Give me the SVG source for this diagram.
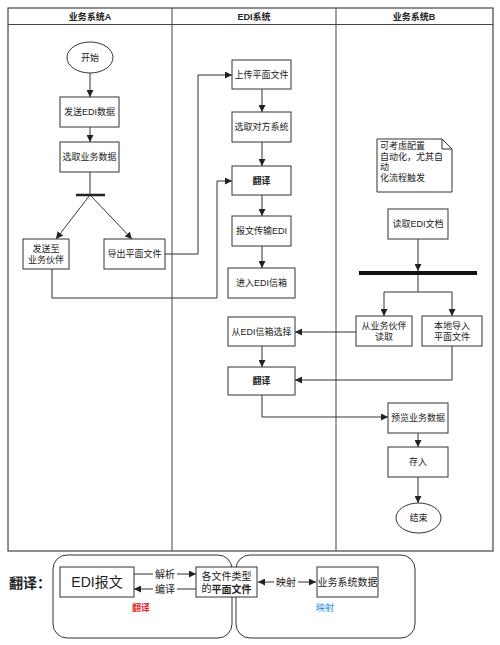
<svg xmlns="http://www.w3.org/2000/svg" width="500" height="645" viewBox="0 0 500 645">
<style>
text{font-family:"Liberation Sans","Noto Sans CJK SC",sans-serif;fill:#222;font-size:9px;text-anchor:middle;dominant-baseline:central}
.box{fill:#fff;stroke:#333;stroke-width:1}
.ln{fill:none;stroke:#333;stroke-width:1}
.arr{fill:none;stroke:#333;stroke-width:1;marker-end:url(#ah)}
.b{font-weight:bold}
.hdr{font-weight:bold;font-size:9px}
</style>
<defs>
<marker id="ah" viewBox="0 0 8 8" refX="8" refY="4" markerWidth="7" markerHeight="7" markerUnits="userSpaceOnUse" orient="auto">
<path d="M0,0 L8,4 L0,8 Z" fill="#222"/>
</marker>
<marker id="as" viewBox="0 0 8 8" refX="0" refY="4" markerWidth="7" markerHeight="7" markerUnits="userSpaceOnUse" orient="auto">
<path d="M8,0 L0,4 L8,8 Z" fill="#222"/>
</marker>
</defs>
<rect width="500" height="645" fill="#fff"/>
<g id="lanes">
<rect x="8" y="8" width="485" height="543" fill="none" stroke="#444" stroke-width="1.2"/>
<line x1="8" y1="24.5" x2="493" y2="24.5" stroke="#444"/>
<line x1="172" y1="8" x2="172" y2="551" stroke="#444"/>
<line x1="336" y1="8" x2="336" y2="551" stroke="#444"/>
<text class="hdr" x="90" y="16.5">业务系统A</text>
<text class="hdr" x="254" y="16.5">EDI系统</text>
<text class="hdr" x="414" y="16.5">业务系统B</text>
</g>
<g id="connectors">
<line class="arr" x1="90" y1="73" x2="90" y2="97"/>
<line class="arr" x1="90" y1="127" x2="90" y2="142"/>
<line class="ln" x1="90" y1="172" x2="90" y2="195"/>
<line x1="76" y1="195" x2="105" y2="195" stroke="#222" stroke-width="2.5"/>
<line class="arr" x1="90" y1="195" x2="56" y2="239"/>
<line class="arr" x1="90" y1="195" x2="132" y2="239"/>
<polyline class="arr" points="52,269 52,298 217,298 217,181 232,181"/>
<polyline class="arr" points="165,254 198,254 198,75 232,75"/>
<line class="arr" x1="262" y1="89" x2="262" y2="112"/>
<line class="arr" x1="262" y1="142" x2="262" y2="166"/>
<line class="arr" x1="262" y1="195" x2="262" y2="216"/>
<line class="arr" x1="262" y1="246" x2="262" y2="268"/>
<line class="arr" x1="418" y1="239" x2="418" y2="271"/>
<line x1="359" y1="273" x2="477" y2="273" stroke="#111" stroke-width="4"/>
<polyline class="ln" points="418,275 418,292"/>
<polyline class="arr" points="418,292 384,292 384,316"/>
<polyline class="arr" points="418,292 452,292 452,316"/>
<line class="arr" x1="356" y1="332" x2="295" y2="332"/>
<line class="arr" x1="262" y1="346" x2="262" y2="367"/>
<polyline class="arr" points="452,346 452,380 295,380"/>
<polyline class="arr" points="262,395 262,417 388,417"/>
<line class="arr" x1="418" y1="433" x2="418" y2="447"/>
<line class="arr" x1="418" y1="477" x2="418" y2="503"/>
</g>
<g id="start"><ellipse class="box" cx="90" cy="57.5" rx="23" ry="15.5"/><text x="90" y="57.5">开始</text></g>
<g id="sendEDI"><rect class="box" x="60" y="97" width="59" height="30"/><text x="89.5" y="112">发送EDI数据</text></g>
<g id="selectData"><rect class="box" x="60" y="142" width="59" height="30"/><text x="89.5" y="157">选取业务数据</text></g>
<g id="sendPartner"><rect class="box" x="23" y="239" width="46" height="30"/><text x="46" y="248.5">发送至</text><text x="46" y="260">业务伙伴</text></g>
<g id="exportFlat"><rect class="box" x="104" y="239" width="61" height="30"/><text x="134.5" y="254">导出平面文件</text></g>
<g id="uploadFlat"><rect class="box" x="232" y="60" width="59" height="29"/><text x="261.5" y="74.5">上传平面文件</text></g>
<g id="selectSystem"><rect class="box" x="232" y="112" width="59" height="30"/><text x="261.5" y="127">选取对方系统</text></g>
<g id="translate1"><rect class="box" x="232" y="166" width="59" height="29"/><text class="b" x="261.5" y="180.5">翻译</text></g>
<g id="transmitEDI"><rect class="box" x="232" y="216" width="59" height="30"/><text x="261.5" y="231">报文传输EDI</text></g>
<g id="enterMailbox"><rect class="box" x="228" y="268" width="67" height="30"/><text x="261.5" y="283">进入EDI信箱</text></g>
<g id="note">
<path class="box" d="M377,139 H442 L452,149 V192 H377 Z"/>
<path class="ln" d="M442,139 V149 H452"/>
<text x="380" y="145.5" style="text-anchor:start">可考虑配置</text>
<text x="380" y="156.5" style="text-anchor:start">自动化，尤其自</text>
<text x="380" y="167" style="text-anchor:start">动</text>
<text x="380" y="178" style="text-anchor:start">化流程触发</text>
</g>
<g id="readEDI"><rect class="box" x="388" y="209" width="60" height="30"/><text x="418" y="224">读取EDI文档</text></g>
<g id="readPartner"><rect class="box" x="356" y="316" width="56" height="30"/><text x="384" y="325.5">从业务伙伴</text><text x="384" y="337">读取</text></g>
<g id="localImport"><rect class="box" x="422" y="316" width="60" height="30"/><text x="452" y="325.5">本地导入</text><text x="452" y="337">平面文件</text></g>
<g id="selectMailbox"><rect class="box" x="228" y="317" width="67" height="29"/><text x="261.5" y="331.5">从EDI信箱选择</text></g>
<g id="translate2"><rect class="box" x="228" y="367" width="67" height="28"/><text class="b" x="261.5" y="381">翻译</text></g>
<g id="preview"><rect class="box" x="388" y="403" width="60" height="30"/><text x="418" y="418">预览业务数据</text></g>
<g id="store"><rect class="box" x="388" y="447" width="60" height="30"/><text x="418" y="462">存入</text></g>
<g id="end"><ellipse class="box" cx="418.5" cy="518" rx="22.5" ry="15"/><text x="418.5" y="518">结束</text></g>
<g id="legend">
<text class="b" x="30" y="583" style="font-size:14px">翻译：</text>
<rect x="53" y="555" width="179" height="83" rx="14" fill="none" stroke="#333"/>
<rect x="236" y="555" width="179" height="83" rx="14" fill="none" stroke="#333"/>
<g id="ediMsg"><rect class="box" x="60" y="567" width="74" height="30"/><text x="97" y="582" style="font-size:14px">EDI报文</text></g>
<g id="flatFiles"><rect class="box" x="196" y="567" width="61" height="30"/><text x="226.5" y="576.5" style="font-size:10px">各文件类型</text><text x="226.5" y="588.5" style="font-size:10px">的<tspan font-weight="bold">平面文件</tspan></text></g>
<g id="bizData"><rect class="box" x="317" y="567" width="61" height="30"/><text x="347.5" y="582" style="font-size:10px">业务系统数据</text></g>
<line class="arr" x1="134" y1="574" x2="196" y2="574"/>
<rect x="153" y="568" width="24" height="12" fill="#fff"/>
<text x="165" y="574" style="font-size:10px">解析</text>
<line class="arr" x1="196" y1="589" x2="134" y2="589"/>
<rect x="153" y="583" width="24" height="12" fill="#fff"/>
<text x="165" y="589" style="font-size:10px">编译</text>
<line class="arr" x1="258" y1="582" x2="316" y2="582" style="marker-start:url(#as)"/>
<rect x="274" y="576" width="24" height="12" fill="#fff"/>
<text x="286" y="582" style="font-size:10px">映射</text>
<text class="b" x="141" y="608" style="fill:#e0282f">翻译</text>
<text x="325" y="608" style="fill:#1b8ad6">映射</text>
</g>
</svg>
